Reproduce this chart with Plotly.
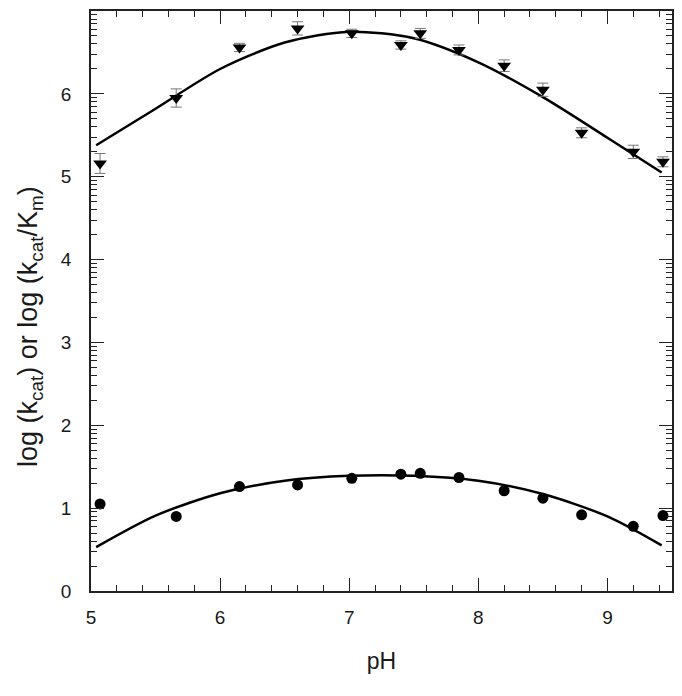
import numpy as np
import plotly.graph_objects as go

# Measured data: kcat/Km (triangles) and kcat (circles)
ph_pts = [5.07, 5.66, 6.15, 6.60, 7.02, 7.40, 7.55, 7.85, 8.20, 8.50, 8.80, 9.20, 9.43]
log_kcat_km = [5.16, 5.95, 6.56, 6.79, 6.73, 6.59, 6.73, 6.53, 6.34, 6.05, 5.53, 5.30, 5.18]
log_kcat_km_err = [0.12, 0.11, 0.05, 0.08, 0.05, 0.05, 0.06, 0.06, 0.07, 0.08, 0.06, 0.08, 0.06]
log_kcat = [1.05, 0.90, 1.26, 1.28, 1.36, 1.41, 1.42, 1.37, 1.21, 1.12, 0.92, 0.78, 0.91]

# Fitted curves
fit_ph = [5.04, 5.5, 6.0, 6.5, 7.0, 7.5, 8.0, 8.5, 9.0, 9.42]
fit_upper = [5.38, 5.82, 6.30, 6.62, 6.75, 6.67, 6.38, 5.96, 5.47, 5.05]
fit_lower = [0.53, 0.91, 1.18, 1.33, 1.39, 1.39, 1.33, 1.17, 0.90, 0.55]

x_ticks = [5, 6, 7, 8, 9]
x_minor = [5 + 0.2 * i for i in range(23) if i % 5 != 0]
y_ticks = [0, 1, 2, 3, 4, 5, 6]
y_minor = [d + np.log10(k) for d in range(7) for k in range(2, 10)]

y_title = "log (k<sub>cat</sub>) or log (k<sub>cat</sub>/K<sub>m</sub>)"
x_title = "pH"

FONT = "Arial, Liberation Sans, sans-serif"
AX = "#222222"
TXT = "#1a1a1a"

fig = go.Figure()
for yv in (fit_upper, fit_lower):
    fig.add_trace(go.Scatter(x=fit_ph, y=yv, mode="lines",
                             line=dict(color="black", width=2.5, shape="spline", smoothing=0.8),
                             showlegend=False, hoverinfo="skip"))
fig.add_trace(go.Scatter(x=ph_pts, y=log_kcat_km, mode="markers",
                         marker=dict(symbol="triangle-down", size=12, color="black"),
                         error_y=dict(type="data", array=log_kcat_km_err, color="#777777",
                                      thickness=1, width=5.5),
                         showlegend=False))
fig.add_trace(go.Scatter(x=ph_pts, y=log_kcat, mode="markers",
                         marker=dict(symbol="circle", size=11, color="black"),
                         showlegend=False))

major = dict(showline=True, linecolor=AX, linewidth=1.5, mirror="ticks",
             ticks="inside", ticklen=13, tickwidth=1.2, tickcolor=AX,
             showgrid=False, zeroline=False,
             tickfont=dict(family=FONT, size=19, color=TXT))
minor = dict(showticklabels=False, ticks="inside", ticklen=6, tickwidth=1.2, tickcolor=AX,
             mirror="ticks", showline=False, showgrid=False, zeroline=False)

fig.update_layout(
    width=674, height=688, margin=dict(l=83, r=10, t=1, b=105),
    paper_bgcolor="white", plot_bgcolor="white", font=dict(family=FONT),
    xaxis=dict(range=[5, 9.5], tickmode="array", tickvals=x_ticks, ticklabelstandoff=8,
               title=dict(text=x_title, font=dict(family=FONT, size=23, color=TXT), standoff=26),
               **major),
    yaxis=dict(range=[0, 7], tickmode="array", tickvals=y_ticks, ticklabelstandoff=14,
               **major),
    xaxis2=dict(overlaying="x", range=[5, 9.5], tickmode="array", tickvals=x_minor, **minor),
    yaxis2=dict(overlaying="y", range=[0, 7], tickmode="array", tickvals=y_minor, **minor),
    annotations=[dict(text=y_title, textangle=-90, xref="paper", yref="paper",
                      x=-0.105, y=0.457, xanchor="center", yanchor="middle",
                      showarrow=False, font=dict(family=FONT, size=27, color=TXT))],
)
# invisible trace that activates the overlay (minor-tick) axes
fig.add_trace(go.Scatter(x=[5], y=[0], xaxis="x2", yaxis="y2", mode="markers",
                         marker=dict(opacity=0), showlegend=False, hoverinfo="skip"))

fig.write_html("out.html")
